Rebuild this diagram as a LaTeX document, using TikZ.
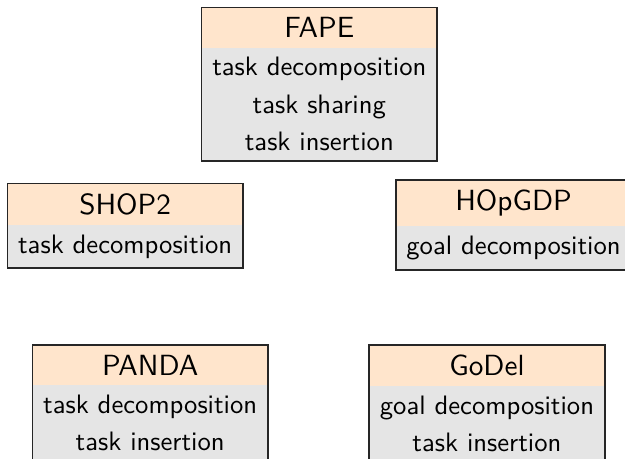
\documentclass[tikz,border=0pt]{standalone}
\usepackage{tikz}
\usetikzlibrary{shapes.multipart}

\tikzset{
  planner/.style={rectangle split, rectangle split parts=2,
    rectangle split draw splits=false,
    rectangle split part fill={orange!20,gray!20},
    draw=black!85, line width=0.6pt, anchor=north, align=center,
    inner xsep=4pt, inner ysep=3.4pt,
    font=\sffamily\fontsize{10}{14}\selectfont},
}
\newcommand{\plname}[1]{{\fontsize{10.95}{13.6}\selectfont #1}}

\begin{document}
\begin{tikzpicture}
  \useasboundingbox (0,0) rectangle (8.24,-6.04);

  \node [planner] (fape) at (4.21,-0.09)
    {\plname{FAPE} \nodepart{two} task decomposition\\task sharing\\task insertion};

  \node [planner] (shop) at (1.65,-2.41)
    {\plname{SHOP2} \nodepart{two} task decomposition};
  \node [planner] (hopgdp) at (6.77,-2.36)
    {\plname{HOpGDP} \nodepart{two} goal decomposition};

  \node [planner] (panda) at (1.98,-4.54)
    {\plname{PANDA} \nodepart{two} task decomposition\\task insertion};
  \node [planner] (godel) at (6.42,-4.54)
    {\plname{GoDel} \nodepart{two} goal decomposition\\task insertion};
\end{tikzpicture}
\end{document}
